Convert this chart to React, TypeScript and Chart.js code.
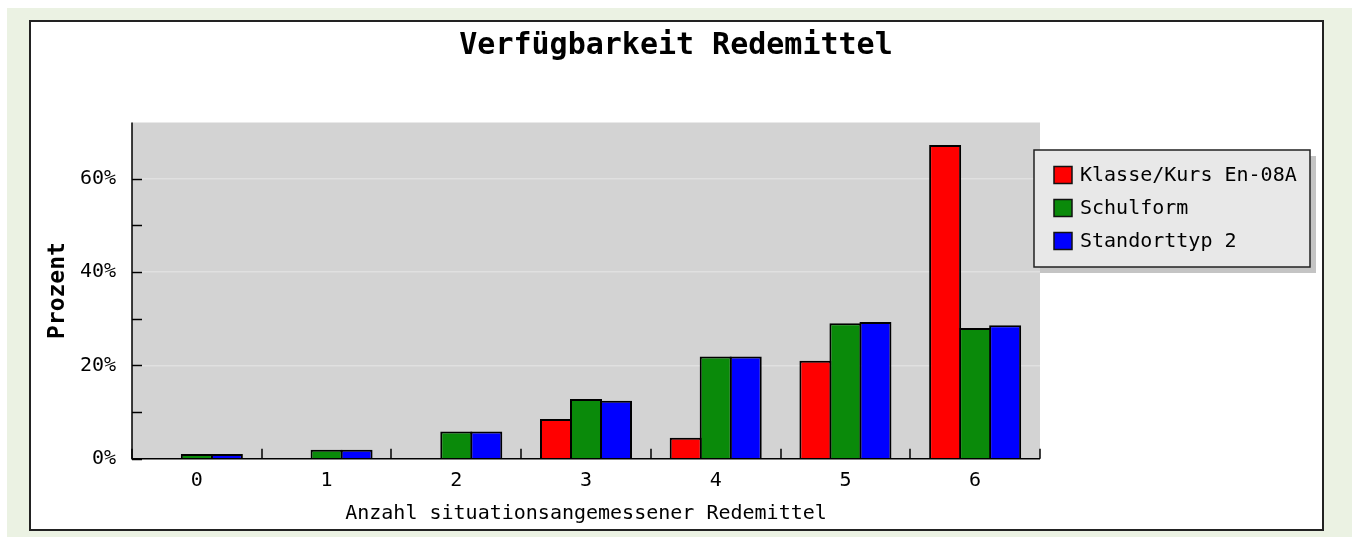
import React, { useEffect, useRef } from "react";
import { Chart, registerables } from "chart.js";

Chart.register(...registerables);

const TITLE = "Verfügbarkeit Redemittel";
const X_TITLE = "Anzahl situationsangemessener Redemittel";
const Y_TITLE = "Prozent";
const CATEGORIES = ["0", "1", "2", "3", "4", "5", "6"];
const SERIES_NAMES = ["Klasse/Kurs En-08A", "Schulform", "Standorttyp 2"];
const KLASSE = [0, 0, 0, 8.5, 4.5, 21.0, 67.2];
const SCHULFORM = [1.0, 1.9, 5.8, 12.8, 21.9, 29.0, 28.0];
const STANDORT = [1.0, 1.9, 5.8, 12.4, 21.9, 29.3, 28.6];
const COLORS = ["#ff0000", "#0a8a0a", "#0000ff"];
const Y_MAX = 72;
const Y_LABELED = [0, 20, 40, 60];
const Y_GRID = [20, 40, 60];

const MONO = "'DejaVu Sans Mono', 'Liberation Mono', monospace";

const framePlugin = {
  id: "frame",
  beforeDraw(chart: any) {
    const ctx = chart.ctx;
    const { left, right, top, bottom } = chart.chartArea;
    ctx.save();
    ctx.fillStyle = "#ffffff";
    ctx.fillRect(0, 0, chart.width, chart.height);
    ctx.fillStyle = "#ebf2e3";
    ctx.fillRect(7, 8, 1345, chart.height - 8);
    ctx.fillStyle = "#ffffff";
    ctx.fillRect(30, 21, 1293, 509);
    ctx.strokeStyle = "#222222";
    ctx.lineWidth = 2;
    ctx.strokeRect(30, 21, 1293, 509);
    ctx.fillStyle = "#d3d3d3";
    ctx.fillRect(left, top, right - left, bottom - top);
    ctx.fillStyle = "#000000";
    ctx.font = "bold 30px " + MONO;
    ctx.textAlign = "center";
    ctx.textBaseline = "middle";
    ctx.fillText(TITLE, 676, 46);
    ctx.restore();
  },
  afterDatasetsDraw(chart: any) {
    const ctx = chart.ctx;
    const { left, right, top, bottom } = chart.chartArea;
    const y = chart.scales.y;
    const x = chart.scales.x;
    ctx.save();
    ctx.strokeStyle = "#000000";
    ctx.lineWidth = 1.5;
    ctx.beginPath();
    ctx.moveTo(left, top);
    ctx.lineTo(left, bottom);
    ctx.lineTo(right, bottom);
    ctx.stroke();
    y.ticks.forEach((t: any) => {
      const py = Math.round(y.getPixelForValue(t.value)) + 0.5;
      ctx.beginPath();
      ctx.moveTo(left, py);
      ctx.lineTo(left + 10, py);
      ctx.stroke();
    });
    const n = CATEGORIES.length;
    for (let i = 0; i <= n; i++) {
      let px;
      if (i === 0) px = left;
      else if (i === n) px = right;
      else px = (x.getPixelForValue(i - 1) + x.getPixelForValue(i)) / 2;
      px = Math.round(px);
      ctx.beginPath();
      ctx.moveTo(px, bottom);
      ctx.lineTo(px, bottom - 10);
      ctx.stroke();
    }
    ctx.restore();
  },
  afterDraw(chart: any) {
    const ctx = chart.ctx;
    const bx = 1034, by = 150, bw = 276, bh = 117;
    ctx.save();
    ctx.fillStyle = "#c4c4c4";
    ctx.fillRect(bx + 6, by + 6, bw, bh);
    ctx.fillStyle = "#e8e8e8";
    ctx.fillRect(bx, by, bw, bh);
    ctx.strokeStyle = "#222222";
    ctx.lineWidth = 1.5;
    ctx.strokeRect(bx, by, bw, bh);
    ctx.font = "20px " + MONO;
    ctx.textBaseline = "middle";
    ctx.textAlign = "left";
    chart.data.datasets.forEach((ds: any, i: number) => {
      const cy = 175 + i * 33;
      ctx.fillStyle = ds.backgroundColor;
      ctx.fillRect(1054, cy - 8.5, 18, 17);
      ctx.strokeStyle = "#111111";
      ctx.lineWidth = 1.5;
      ctx.strokeRect(1054, cy - 8.5, 18, 17);
      ctx.fillStyle = "#000000";
      ctx.fillText(ds.label, 1080, cy + 1);
    });
    ctx.restore();
  },
};

export default function App() {
  const ref = useRef<HTMLCanvasElement | null>(null);
  useEffect(() => {
    if (!ref.current) return;
    const values = [KLASSE, SCHULFORM, STANDORT];
    const chart = new Chart(ref.current, {
      type: "bar",
      data: {
        labels: CATEGORIES,
        datasets: SERIES_NAMES.map((name, i) => ({
          label: name,
          data: values[i],
          backgroundColor: COLORS[i],
          borderColor: "#000000",
          borderWidth: 2,
          borderSkipped: "start",
          barPercentage: 1.067,
          categoryPercentage: 0.694,
        })),
      },
      options: {
        responsive: false,
        animation: false,
        layout: { padding: { left: 40, right: 316, top: 122.5, bottom: 7.5 } },
        plugins: {
          legend: { display: false },
          tooltip: { enabled: false },
          title: { display: false },
        },
        scales: {
          x: {
            grid: { display: false, drawTicks: false },
            border: { display: false },
            ticks: {
              color: "#000000",
              font: { family: MONO, size: 20 },
              padding: 10,
              maxRotation: 0,
            },
            title: {
              display: true,
              text: X_TITLE,
              color: "#000000",
              font: { family: MONO, size: 20 },
              padding: { top: 4, bottom: 4 },
            },
            afterFit(scale: any) {
              scale.height = 70.8;
            },
          },
          y: {
            min: 0,
            max: Y_MAX,
            afterBuildTicks(scale: any) {
              scale.ticks = scale.ticks.filter((t: any) => t.value % 10 === 0);
            },
            grid: {
              drawTicks: false,
              color: (c: any) =>
                c.tick && Y_GRID.includes(c.tick.value) ? "#e0e0e0" : "rgba(0,0,0,0)",
              lineWidth: 1.5,
            },
            border: { display: false },
            ticks: {
              stepSize: 10,
              color: "#000000",
              font: { family: MONO, size: 20 },
              padding: 16,
              callback: (v: any) => (Y_LABELED.includes(Number(v)) ? v + "%" : ""),
            },
            title: {
              display: true,
              text: Y_TITLE,
              color: "#000000",
              font: { family: MONO, size: 23, weight: "bold" },
              padding: { top: 4, bottom: 4 },
            },
            afterFit(scale: any) {
              scale.width = 92;
            },
          },
        },
      },
      plugins: [framePlugin],
    });
    return () => chart.destroy();
  }, []);
  return (
    <div style={{ position: "fixed", left: 0, top: 0, width: 1356, height: 537 }}>
      <canvas ref={ref} width={1356} height={537} style={{ width: 1356, height: 537, display: "block" }} />
    </div>
  );
}
